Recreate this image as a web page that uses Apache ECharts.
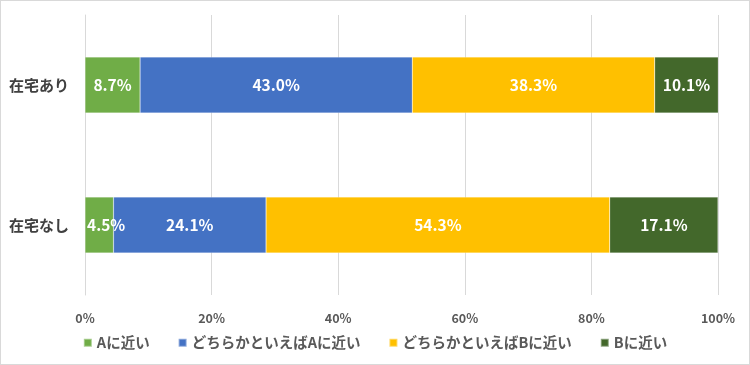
<!DOCTYPE html>
<html><head><meta charset="utf-8">
<script src="https://cdn.jsdelivr.net/npm/echarts@6/dist/echarts.min.js"></script>
<style>html,body{margin:0;padding:0;background:#fff}#c{width:748px;height:363px;border:1px solid #d9d9d9}</style>
</head><body><div id="c"></div>
<script>
const categories = ['在宅あり', '在宅なし'];
const seriesNames = ['Aに近い', 'どちらかといえばAに近い', 'どちらかといえばBに近い', 'Bに近い'];
const valsA = [8.7, 4.5];
const valsLeanA = [43.0, 24.1];
const valsLeanB = [38.3, 54.3];
const valsB = [10.1, 17.1];
const colors = ['#70AD47', '#4472C4', '#FFC000', '#43682B'];
const tickLabels = ['0%', '20%', '40%', '60%', '80%', '100%'];

const font = '"Noto Sans CJK JP", sans-serif';
const data = [valsA, valsLeanA, valsLeanB, valsB];
const chart = echarts.init(document.getElementById('c'));
chart.setOption({
  animation: false,
  textStyle: { fontFamily: font },
  grid: { left: 84, right: 31, top: 14, bottom: 69, containLabel: false },
  xAxis: {
    type: 'value', min: 0, max: 100, interval: 20,
    axisLabel: { formatter: v => tickLabels[v / 20], color: '#595959', fontWeight: 'bold', fontSize: 12.5, margin: 17, fontFamily: font },
    splitLine: { lineStyle: { color: '#d9d9d9' } },
    axisLine: { show: false }, axisTick: { show: false }
  },
  yAxis: {
    type: 'category', data: categories, inverse: true,
    axisLabel: { color: '#404040', fontWeight: 'bold', fontSize: 15, margin: 16, fontFamily: font },
    axisLine: { show: true, lineStyle: { color: '#d9d9d9' } }, axisTick: { show: false }
  },
  legend: {
    bottom: 9, left: 'center', itemWidth: 8, itemHeight: 8, itemGap: 28, icon: 'rect',
    textStyle: { color: '#595959', fontWeight: 'bold', fontSize: 14.5, fontFamily: font }
  },
  series: seriesNames.map((n, i) => ({
    name: n, type: 'bar', stack: 'total', barWidth: 56,
    itemStyle: { color: colors[i], borderColor: 'rgba(255,255,255,0.4)', borderWidth: 0.5 },
    label: { show: true, position: 'inside', color: '#fff', fontWeight: 'bold', fontSize: 15.5, formatter: p => p.value.toFixed(1) + '%', fontFamily: font },
    data: data[i].map(v => (i === 0 && v < 6) ? { value: v, label: { position: 'insideLeft', distance: 2 } } : v)
  }))
});
</script></body></html>
